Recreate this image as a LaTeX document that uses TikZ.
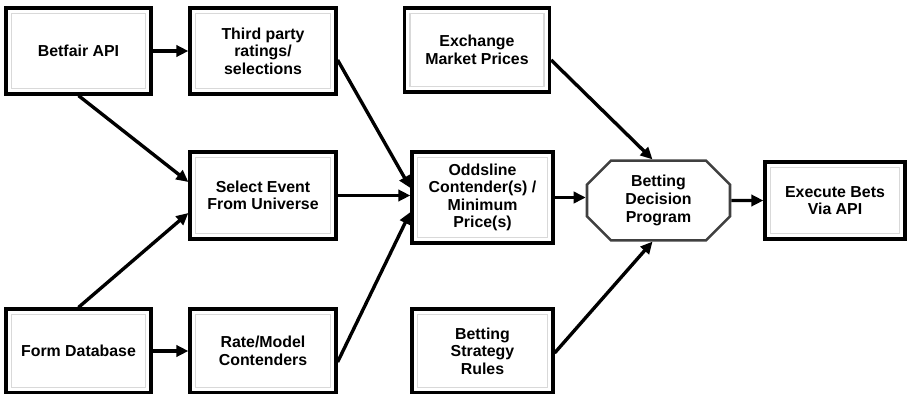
\documentclass[tikz,border=0pt]{standalone}
\usepackage{fontspec}
\setmainfont{Liberation Sans}
\usepackage{tikz}
\usetikzlibrary{arrows.meta,positioning,calc,shapes.misc}
\tikzset{
  stagebox/.style={draw=black, line width=2.3pt, fill=white, align=center,
    inner sep=2pt, minimum width=145*0.025cm, minimum height=86*0.025cm,
    font=\fontsize{11.3}{12.5}\selectfont\bfseries,
    path picture={\draw[gray!30, line width=0.9pt]
      ([shift={(5.5,-5.5)}]path picture bounding box.north west) rectangle
      ([shift={(-5.5,5.5)}]path picture bounding box.south east);}},
  decisionbox/.style={chamfered rectangle, chamfered rectangle xsep=0.3cm,
    chamfered rectangle ysep=0.3cm, draw=black!75, line width=1.8pt,
    fill=white, align=center, inner sep=2pt,
    minimum width=143*0.025cm, minimum height=77*0.025cm,
    font=\fontsize{11.3}{12.5}\selectfont\bfseries},
  flow/.style={-{Triangle[length=3mm,width=2.8mm]}, line width=2.4pt},
}

\begin{document}
\begin{tikzpicture}[x=0.025cm, y=0.025cm]
  \useasboundingbox (0,0) rectangle (907,-394);
  % sources
  \node[stagebox] (api) at (78.5,-51) {Betfair API};
  \node[stagebox, minimum width=146*0.025cm] (third) at (263,-51) {Third party\\ratings/\\selections};
  \node[stagebox, minimum height=84*0.025cm] (exch) at (477,-50) {Exchange\\Market Prices};
  \node[stagebox, minimum width=146*0.025cm, minimum height=87*0.025cm] (select) at (263,-195.5) {Select Event\\From Universe};
  \node[stagebox, minimum width=141*0.025cm, minimum height=91*0.025cm] (odds) at (482.5,-197.5) {Oddsline\\Contender(s) /\\Minimum\\Price(s)};
  \node[decisionbox] (bdp) at (658.5,-200.5) {Betting\\Decision\\Program};
  \node[stagebox, minimum width=140*0.025cm, minimum height=77*0.025cm] (exec) at (835,-200.5) {Execute Bets\\Via API};
  \node[stagebox, minimum height=84*0.025cm] (form) at (78.5,-351) {Form Database};
  \node[stagebox, minimum width=146*0.025cm, minimum height=84*0.025cm] (rate) at (263,-351) {Rate/Model\\Contenders};
  \node[stagebox, minimum width=141*0.025cm, minimum height=84*0.025cm] (strat) at (482.5,-351) {Betting\\Strategy\\Rules};
  % connectors
  \draw[flow] (api) -- (third);
  \draw[flow] (form) -- (rate);
  \draw[flow] (api.south) -- ($(select.west)+(0,13.5)$);
  \draw[flow] (form.north) -- ($(select.west)+(0,-17.5)$);
  \draw[flow] ($(third.east)+(0,-9)$) -- ($(odds.west)+(0,9.5)$);
  \draw[flow] (select.east) -- (select.east -| odds.west);
  \draw[flow] ($(rate.east)+(0,-11)$) -- ($(odds.west)+(0,-14.5)$);
  \draw[flow] (odds.east) -- (odds.east -| bdp.west);
  \draw[flow] ($(exch.east)+(0,-10)$) -- ($(bdp.north)+(-6,0)$);
  \draw[flow] ($(strat.east)+(0,-2)$) -- ($(bdp.south)+(-6,0)$);
  \draw[flow] (bdp) -- (exec);
\end{tikzpicture}
\end{document}
